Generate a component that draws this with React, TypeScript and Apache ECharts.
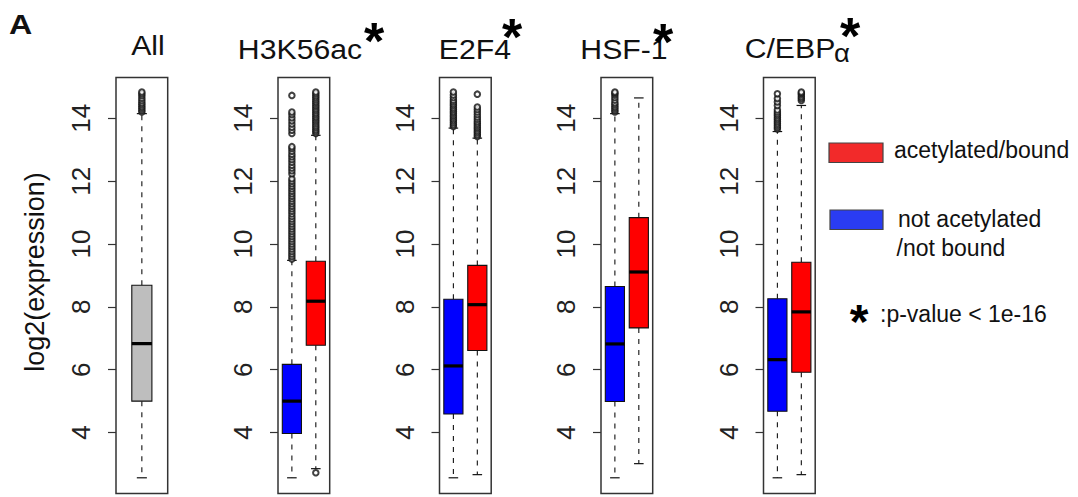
import React, { useEffect, useRef } from "react";
import * as echarts from "echarts";

// ---------- data ----------
const Y_MIN = 2.06;
const Y_MAX = 15.3;
const Y_TICKS = [4, 6, 8, 10, 12, 14];

const PANEL_TITLES = ["All", "H3K56ac", "E2F4", "HSF-1", "C/EBP"];
const SUBSCRIPT_ALPHA = "α";
const Y_NAME = "log2(expression)";
const PANEL_LETTER = "A";
const STAR = "*";
const LEGEND_BOUND = "acetylated/bound";
const LEGEND_NOT_1 = "not acetylated";
const LEGEND_NOT_2 = "/not bound";
const PVALUE_NOTE = ":p-value < 1e-16";

// [lower whisker, Q1, median, Q3, upper whisker]
const ALL_BOX = [2.56, 5.0, 6.83, 8.69, 14.15];
const H3K56AC_NOT = [2.56, 3.97, 5.0, 6.17, 9.48];
const H3K56AC_BOUND = [2.85, 6.78, 8.18, 9.45, 13.46];
const E2F4_NOT = [2.56, 4.59, 6.12, 8.24, 13.69];
const E2F4_BOUND = [2.66, 6.61, 8.07, 9.32, 13.37];
const HSF1_NOT = [2.56, 4.99, 6.82, 8.65, 14.15];
const HSF1_BOUND = [3.01, 7.33, 9.11, 10.84, 14.65];
const CEBPA_NOT = [2.56, 4.68, 6.32, 8.26, 13.58];
const CEBPA_BOUND = [2.66, 5.92, 7.84, 9.42, 14.41];

// outliers
const ALL_OUT = [14.2, 14.26, 14.32, 14.38, 14.44, 14.5, 14.57, 14.64, 14.72, 14.78, 14.84];
const H3K56AC_NOT_OUT = [
  9.52, 9.6, 9.68, 9.76, 9.84, 9.92, 10.0, 10.08, 10.16, 10.24, 10.32, 10.4, 10.48, 10.56,
  10.64, 10.72, 10.8, 10.88, 10.96, 11.04, 11.12, 11.2, 11.28, 11.36, 11.44, 11.52, 11.6,
  11.68, 11.76, 11.84, 11.92, 12.0, 12.08, 12.24, 12.33, 12.42, 12.51, 12.6, 12.69, 12.78,
  12.86, 12.95, 13.04, 13.1, 13.52, 13.62, 13.72, 13.82, 13.92, 14.02, 14.12, 14.2, 14.73,
];
const H3K56AC_BOUND_OUT = [
  2.72, 13.52, 13.58, 13.64, 13.7, 13.76, 13.82, 13.88, 13.94, 14.0, 14.06, 14.12, 14.18,
  14.24, 14.3, 14.36, 14.42, 14.48, 14.54, 14.6, 14.66, 14.72, 14.78, 14.84,
];
const E2F4_NOT_OUT = [
  13.74, 13.8, 13.86, 13.92, 13.98, 14.04, 14.1, 14.16, 14.22, 14.28, 14.34, 14.4, 14.46,
  14.52, 14.58, 14.66, 14.74, 14.84,
];
const E2F4_BOUND_OUT = [
  13.42, 13.48, 13.54, 13.6, 13.66, 13.72, 13.78, 13.84, 13.9, 13.97, 14.04, 14.12, 14.2,
  14.28, 14.36, 14.77,
];
const HSF1_NOT_OUT = [14.2, 14.26, 14.32, 14.38, 14.44, 14.5, 14.58, 14.66, 14.74, 14.8, 14.84];
const HSF1_BOUND_OUT: number[] = [];
const CEBPA_NOT_OUT = [
  13.66, 13.72, 13.78, 13.84, 13.9, 13.96, 14.02, 14.08, 14.14, 14.2, 14.27, 14.41, 14.52,
  14.63, 14.78,
];
const CEBPA_BOUND_OUT = [14.57, 14.63, 14.69, 14.75, 14.8, 14.84];

// ---------- styles / layout ----------
const GRAY = "#bebebe";
const BLUE = "#0000ff";
const RED = "#ff0000";
const FONT = "'Liberation Sans', Arial, Helvetica, sans-serif";

const PANELS = [
  { boxes: [ALL_BOX], outliers: [ALL_OUT], colors: [GRAY], left: 116, xMin: 0.46, xMax: 1.54, boxW: 0.42 },
  { boxes: [H3K56AC_NOT, H3K56AC_BOUND], outliers: [H3K56AC_NOT_OUT, H3K56AC_BOUND_OUT], colors: [BLUE, RED], left: 278, xMin: 0.42, xMax: 2.58, boxW: 0.8 },
  { boxes: [E2F4_NOT, E2F4_BOUND], outliers: [E2F4_NOT_OUT, E2F4_BOUND_OUT], colors: [BLUE, RED], left: 439.5, xMin: 0.42, xMax: 2.58, boxW: 0.8 },
  { boxes: [HSF1_NOT, HSF1_BOUND], outliers: [HSF1_NOT_OUT, HSF1_BOUND_OUT], colors: [BLUE, RED], left: 601, xMin: 0.42, xMax: 2.58, boxW: 0.8 },
  { boxes: [CEBPA_NOT, CEBPA_BOUND], outliers: [CEBPA_NOT_OUT, CEBPA_BOUND_OUT], colors: [BLUE, RED], left: 763.5, xMin: 0.42, xMax: 2.58, boxW: 0.8 },
];
const GRID_TOP = 77.5;
const GRID_H = 416;
const GRID_W = 51.7;

const TITLE_POS = [
  { x: 148, y: 46 },
  { x: 300, y: 50 },
  { x: 475, y: 50 },
  { x: 624, y: 50 },
  { x: 790, y: 48.5 },
];
const STAR_POS = [null, { x: 374, y: 32 }, { x: 512, y: 28 }, { x: 663, y: 33 }, { x: 850, y: 27 }];

function makeRenderItem(colors: string[], boxW: number) {
  return (params: any, api: any) => {
    const x = api.value(0);
    const lo = api.coord([x, api.value(1)]);
    const q1 = api.coord([x, api.value(2)]);
    const med = api.coord([x, api.value(3)]);
    const q3 = api.coord([x, api.value(4)]);
    const hi = api.coord([x, api.value(5)]);
    const cx = lo[0];
    const w = api.size([boxW, 0])[0];
    const cap = w / 2;
    const dash = { stroke: "#111", lineWidth: 1.1, lineDash: [5, 6] };
    const solid = { stroke: "#111", lineWidth: 1.2 };
    return {
      type: "group",
      children: [
        { type: "line", shape: { x1: cx, y1: q1[1], x2: cx, y2: lo[1] }, style: dash },
        { type: "line", shape: { x1: cx, y1: q3[1], x2: cx, y2: hi[1] }, style: dash },
        { type: "line", shape: { x1: cx - cap / 2, y1: lo[1], x2: cx + cap / 2, y2: lo[1] }, style: solid },
        { type: "line", shape: { x1: cx - cap / 2, y1: hi[1], x2: cx + cap / 2, y2: hi[1] }, style: solid },
        {
          type: "rect",
          shape: { x: cx - w / 2, y: q3[1], width: w, height: q1[1] - q3[1] },
          style: { fill: colors[params.dataIndex], stroke: "#111", lineWidth: 1.1 },
        },
        { type: "line", shape: { x1: cx - w / 2, y1: med[1], x2: cx + w / 2, y2: med[1] }, style: { stroke: "#000", lineWidth: 3.2 } },
      ],
    };
  };
}

function buildOption() {
  const grid: any[] = [];
  const xAxis: any[] = [];
  const yAxis: any[] = [];
  const series: any[] = [];
  PANELS.forEach((p, i) => {
    grid.push({
      left: p.left,
      top: GRID_TOP,
      width: GRID_W,
      height: GRID_H,
      show: true,
      borderColor: "#333",
      borderWidth: 1.5,
      backgroundColor: "transparent",
    });
    xAxis.push({
      type: "value",
      gridIndex: i,
      min: p.xMin,
      max: p.xMax,
      show: false,
      splitLine: { show: false },
    });
    yAxis.push({
      type: "value",
      gridIndex: i,
      min: Y_MIN,
      max: Y_MAX,
      axisLine: { show: false },
      splitLine: { show: false },
      axisTick: {
        show: true,
        length: 8,
        inside: false,
        customValues: Y_TICKS,
        lineStyle: { color: "#333", width: 1.2 },
      },
      axisLabel: {
        show: true,
        customValues: Y_TICKS,
        rotate: 90,
        fontSize: 26,
        color: "#222",
        fontFamily: FONT,
        margin: 22,
      },
    });
    series.push({
      type: "custom",
      xAxisIndex: i,
      yAxisIndex: i,
      renderItem: makeRenderItem(p.colors, p.boxW),
      encode: { x: 0, y: [1, 2, 3, 4, 5] },
      data: p.boxes.map((b, k) => [k + 1, ...b]),
      z: 2,
    });
    series.push({
      type: "scatter",
      xAxisIndex: i,
      yAxisIndex: i,
      symbol: "emptyCircle",
      symbolSize: 5.5,
      itemStyle: { color: "#111", borderColor: "#111", borderWidth: 1 },
      data: p.outliers.flatMap((arr, k) => arr.map((v) => [k + 1, v])),
      z: 3,
    });
  });

  const graphic: any[] = [];
  // panel letter
  graphic.push({
    type: "text",
    x: 9,
    y: 24,
    scaleX: 1.15,
    style: { text: PANEL_LETTER, font: `bold 28px ${FONT}`, fill: "#111", align: "left", verticalAlign: "middle" },
  });
  // y-axis name
  graphic.push({
    type: "text",
    x: 35,
    y: 272,
    rotation: Math.PI / 2,
    style: { text: Y_NAME, font: `27px ${FONT}`, fill: "#111", align: "center", verticalAlign: "middle" },
  });
  // titles
  PANEL_TITLES.forEach((t, i) => {
    graphic.push({
      type: "text",
      x: TITLE_POS[i].x,
      y: TITLE_POS[i].y,
      scaleX: 1.12,
      style: { text: t, font: `27px ${FONT}`, fill: "#111", align: "center", verticalAlign: "middle" },
    });
  });
  graphic.push({
    type: "text",
    x: 834,
    y: 53,
    scaleX: 1.1,
    style: { text: SUBSCRIPT_ALPHA, font: `25px ${FONT}`, fill: "#111", align: "left", verticalAlign: "middle" },
  });
  // stars
  STAR_POS.forEach((s) => {
    if (!s) return;
    graphic.push({
      type: "text",
      x: s.x,
      y: s.y + 8.5,
      style: { text: STAR, font: `bold 52px ${FONT}`, fill: "#000", align: "center", verticalAlign: "middle" },
    });
  });
  // legend
  graphic.push({
    type: "rect",
    shape: { x: 829, y: 143, width: 54, height: 19.5 },
    style: { fill: "#f22a2a", stroke: "#444", lineWidth: 1.2 },
  });
  graphic.push({
    type: "text",
    x: 894,
    y: 150,
    style: { text: LEGEND_BOUND, font: `23px ${FONT}`, fill: "#111", align: "left", verticalAlign: "middle" },
  });
  graphic.push({
    type: "rect",
    shape: { x: 830, y: 210, width: 53, height: 19.5 },
    style: { fill: "#2a3cf2", stroke: "#444", lineWidth: 1.2 },
  });
  graphic.push({
    type: "text",
    x: 898,
    y: 218.5,
    style: { text: LEGEND_NOT_1, font: `23px ${FONT}`, fill: "#111", align: "left", verticalAlign: "middle" },
  });
  graphic.push({
    type: "text",
    x: 896.5,
    y: 248,
    style: { text: LEGEND_NOT_2, font: `23px ${FONT}`, fill: "#111", align: "left", verticalAlign: "middle" },
  });
  graphic.push({
    type: "text",
    x: 859,
    y: 314 + 7.5,
    style: { text: STAR, font: `bold 48px ${FONT}`, fill: "#000", align: "center", verticalAlign: "middle" },
  });
  graphic.push({
    type: "text",
    x: 880,
    y: 313.5,
    style: { text: PVALUE_NOTE, font: `23px ${FONT}`, fill: "#111", align: "left", verticalAlign: "middle" },
  });

  return {
    animation: false,
    backgroundColor: "#ffffff",
    grid,
    xAxis,
    yAxis,
    series,
    graphic,
  };
}

export default function App() {
  const ref = useRef<HTMLDivElement>(null);
  useEffect(() => {
    if (!ref.current) return;
    const chart = echarts.init(ref.current, undefined, { renderer: "svg" });
    chart.setOption(buildOption() as any);
    return () => chart.dispose();
  }, []);
  return (
    <div
      ref={ref}
      style={{ position: "absolute", left: 0, top: 0, width: 1078, height: 497, background: "#fff" }}
    />
  );
}
